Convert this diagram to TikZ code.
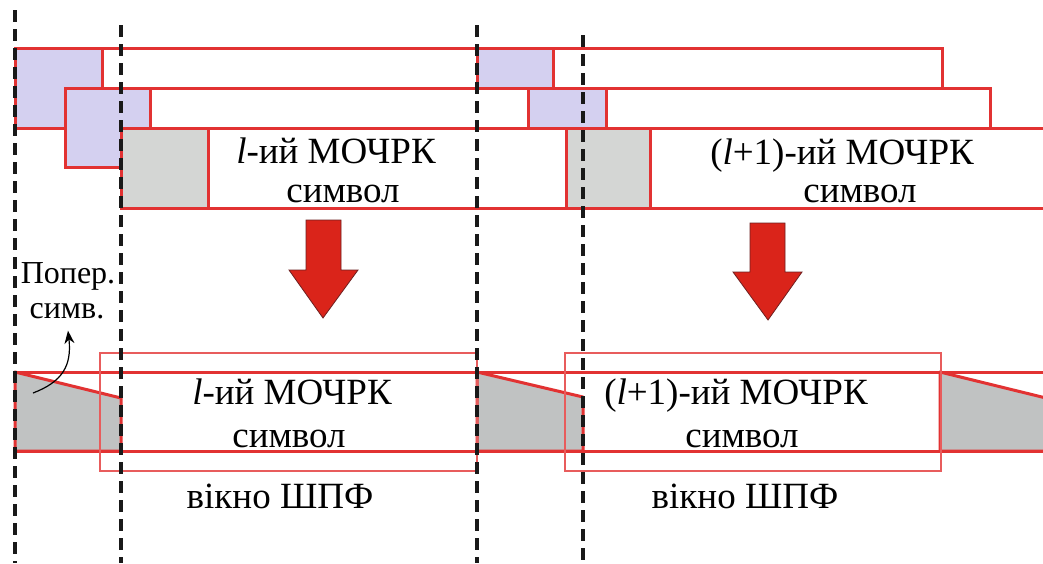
\documentclass[tikz,border=0pt]{standalone}
\usepackage{fontspec}
\setmainfont{Liberation Serif}
\usetikzlibrary{arrows.meta}
\definecolor{symred}{RGB}{226,50,50}
\definecolor{winred}{RGB}{232,92,92}
\definecolor{cpviolet}{RGB}{212,208,240}
\definecolor{cpgrey}{RGB}{212,214,212}
\definecolor{cpgreydark}{RGB}{192,194,194}
\definecolor{arrowred}{RGB}{218,36,26}
\definecolor{arrowedge}{RGB}{110,32,32}
\begin{document}
\begin{tikzpicture}[x=1pt,y=-1pt,
  band/.style={draw=symred,line width=3pt,fill=white},
  cpv/.style={draw=symred,line width=3pt,fill=cpviolet},
  cpg/.style={draw=symred,line width=3pt,fill=cpgrey},
  cptrap/.style={draw=symred,line width=3pt,fill=cpgreydark,line join=round},
  rail/.style={draw=symred,line width=3pt},
  window/.style={draw=winred,line width=1.5pt},
  bigarrow/.style={fill=arrowred,draw=arrowedge,line width=0.8pt,line join=miter},
  boundary/.style={draw=black!90,line width=3.2pt,dash pattern=on 12pt off 7pt},
  lbl/.style={font=\fontsize{37}{42}\selectfont,inner sep=0pt,anchor=base},
  small/.style={font=\fontsize{32}{36}\selectfont,inner sep=0pt,anchor=base},
  pointer/.style={draw=black,line width=1.2pt,-{Stealth[length=13pt,width=10pt]}}]
\useasboundingbox (0,0) rectangle (1043,563);
\fill[white] (0,0) rectangle (1043,563);

% transmitted symbols, staggered rows
\draw[band] (15,48) rectangle (942,88);
\draw[band] (65,88) rectangle (990,128);
\draw[rail] (1050,128) -- (121,128) -- (121,208) -- (1050,208);
% cyclic prefixes of the l-th group
\draw[cpv] (15,48) rectangle (102,128);
\draw[cpv] (65,88) rectangle (150,167);
\draw[cpg] (121,128) rectangle (208,208);
% cyclic prefixes of the (l+1)-th group
\draw[cpv] (477,48) rectangle (553,88);
\draw[cpv] (528,88) rectangle (606,128);
\draw[cpg] (566,128) rectangle (650,208);

\node[lbl] (symA) at (336,163) {\textit{l}-ий МОЧРК};
\node[lbl] (symAb) at (343,202) {символ};
\node[lbl] (symB) at (842,164) {(\textit{l}+1)-ий МОЧРК};
\node[lbl] (symBb) at (860,202) {символ};

% block arrows
\draw[bigarrow] (306,220) -- (341,220) -- (341,270) -- (358,270) -- (323,318)
  -- (289,270) -- (306,270) -- cycle;
\draw[bigarrow] (750,223) -- (785,223) -- (785,272) -- (802,272) -- (768,320)
  -- (733,272) -- (750,272) -- cycle;

% received stream with inter-symbol interference
\draw[cptrap] (15,372) -- (121,398) -- (121,451) -- (15,451) -- cycle;
\draw[cptrap] (477,372) -- (583,397) -- (583,451) -- (477,451) -- cycle;
\draw[cptrap] (940,372) -- (1050,399) -- (1050,451) -- (940,451) -- cycle;
\draw[rail] (15,372) -- (1043,372);
\draw[rail] (15,451) -- (1043,451);

% FFT windows
\draw[window] (100,353) rectangle (477,471);
\draw[window] (565,353) rectangle (941,471);

\node[lbl] (rxA) at (292,404) {\textit{l}-ий МОЧРК};
\node[lbl] (rxAb) at (289,447) {символ};
\node[lbl] (winA) at (280,508) {вікно ШПФ};
\node[lbl] (rxB) at (736,404) {(\textit{l}+1)-ий МОЧРК};
\node[lbl] (rxBb) at (742,447) {символ};
\node[lbl] (winB) at (745,508) {вікно ШПФ};

\node[small] (isiA) at (68,283) {Попер.};
\node[small] (isiB) at (67,318) {симв.};
\coordinate (isiTail) at (33,393);
\draw[pointer] (isiTail) .. controls (62,382) and (72,366) .. ([xshift=1pt,yshift=-12pt]isiB.south);

% symbol boundaries
\draw[boundary] (15,10) -- (15,563);
\draw[boundary] (121,25) -- (121,563);
\draw[boundary] (477,25) -- (477,563);
\draw[boundary] (583,35) -- (583,563);
\end{tikzpicture}
\end{document}
